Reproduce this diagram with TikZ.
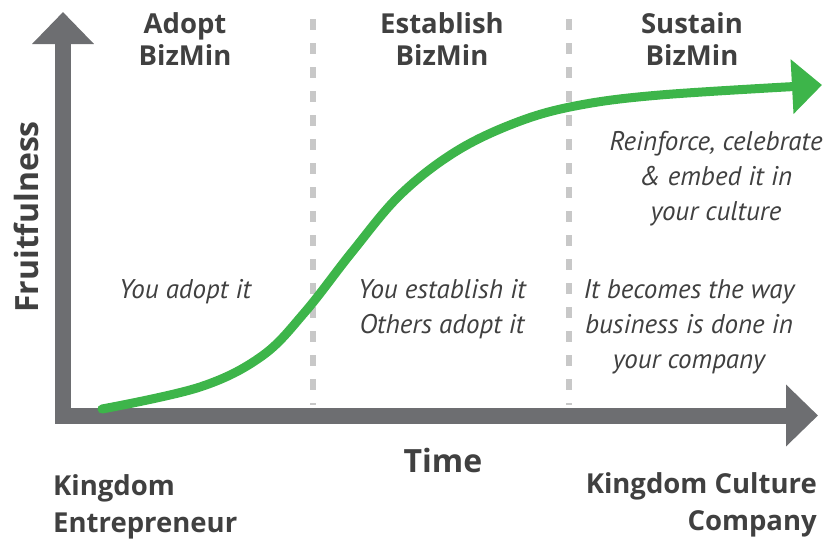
\documentclass[tikz,border=0pt]{standalone}
\usepackage{fontspec}
\setmainfont{Open Sans}
\newfontfamily\itf{PT Sans}
\usetikzlibrary{arrows.meta}
\definecolor{axisgray}{HTML}{6D6E71}
\definecolor{dashgray}{HTML}{C8C8C8}
\definecolor{curvegreen}{HTML}{3DB54A}
\definecolor{txt}{HTML}{404040}
\tikzset{
  axisline/.style={draw=axisgray,line width=16pt,-{Triangle[length=32pt,width=60pt]}},
  phase/.style={draw=dashgray,line width=6pt,dash pattern=on 11pt off 13pt},
  head/.style={font=\fontsize{27.5}{32}\selectfont\bfseries,text=txt,align=center,anchor=base,inner sep=0pt},
  endlab/.style={font=\fontsize{27.5}{37}\selectfont\bfseries,text=txt,inner sep=0pt,anchor=base},
  note/.style={font=\fontsize{27}{35}\selectfont\itf\itshape,text=txt,align=center,anchor=base,inner sep=0pt},
}
\begin{document}
\begin{tikzpicture}[x=1pt,y=-1pt]
\useasboundingbox (0,0) rectangle (832,538);
% coordinates
\coordinate (origV) at (63,423);
\coordinate (topV) at (63,12);
\coordinate (origH) at (55,415.5);
\coordinate (endH) at (818,415.5);
\coordinate (d1t) at (313,19);
\coordinate (d1b) at (313,405);
\coordinate (d2t) at (569,19);
\coordinate (d2b) at (569,405);
% dashed phase lines
\draw[phase] (d1t) -- (d1b);
\draw[phase] (d2t) -- (d2b);
% axes
\draw[axisline] (origV) -- (topV);
\draw[axisline] (origH) -- (endH);
% green curve
\draw[curvegreen,line width=9pt,line cap=round,-{Triangle[length=30pt,width=53pt]}]
  plot[smooth,tension=0.6] coordinates {(102,409) (200,387) (262,356) (305,312) (352,252) (400,195) (455,152) (515,123) (575,106) (660,95) (822,85)};
% headings (anchor at baseline of last line)
\node[head] (h1) at (185,65) {Adopt\\BizMin};
\node[head] (h2) at (442,65) {Establish\\BizMin};
\node[head] (h3) at (692,65) {Sustain\\BizMin};
% notes
\node[note] (n1) at (185,298) {You adopt it};
\node[note] (n2) at (442,333) {You establish it\\Others adopt it};
\node[note] (n3) at (689,368) {It becomes the way\\business is done in\\your company};
\node[note] (n4) at (716,220) {Reinforce, celebrate\\\& embed it in\\your culture};
% axis labels
\node[font=\fontsize{32}{36}\selectfont\bfseries,text=txt,rotate=90,inner sep=0pt] (yl) at (26,217) {Fruitfulness};
\node[font=\fontsize{32}{36}\selectfont\bfseries,text=txt,anchor=base,inner sep=0pt] (xl) at (443,472) {Time};
\node[endlab,anchor=base west,align=left] (k1) at (53,532) {Kingdom\\Entrepreneur};
\node[endlab,anchor=base east,align=right] (k2) at (817,530) {Kingdom Culture\\Company};
\end{tikzpicture}
\end{document}
